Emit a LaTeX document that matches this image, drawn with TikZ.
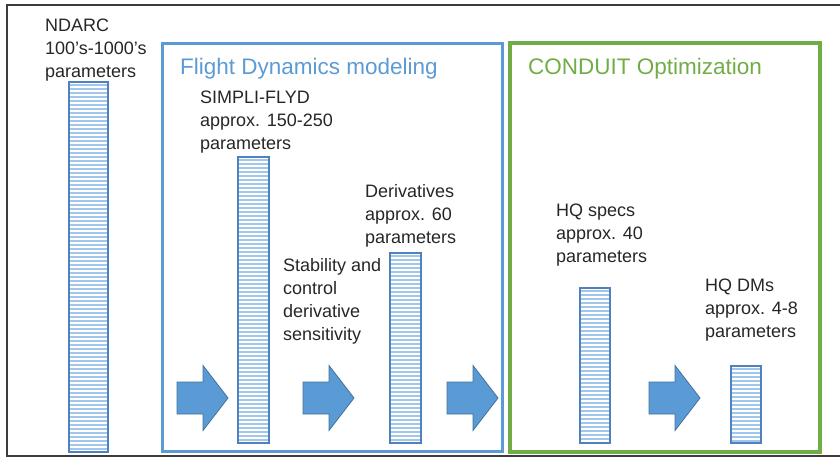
\documentclass[tikz,border=0pt]{standalone}
\usepackage{fontspec}
\setmainfont{Liberation Sans}
\usetikzlibrary{calc}
\definecolor{fdblue}{RGB}{91,155,213}
\definecolor{cgreen}{RGB}{112,173,71}
\definecolor{barline}{RGB}{79,129,189}
\definecolor{stripe}{RGB}{160,198,236}
\definecolor{arrowfill}{RGB}{91,155,213}
\definecolor{arrowedge}{RGB}{65,113,156}
\definecolor{framecol}{RGB}{60,60,60}
\newcommand{\stripebar}[5]{%
  \begin{scope}
    \clip (#1,#2) rectangle (#3,#4);
    \pgfmathsetmacro{\ystart}{#2+3}
    \pgfmathsetmacro{\ynext}{#2+7}
    \foreach \yy in {\ystart,\ynext,...,#4}
      \fill[stripe] (#1,\yy-1) rectangle (#3,\yy+1);
  \end{scope}
  \draw[barline, line width=1.1pt] (#1,#2) rectangle (#3,#4);
  \coordinate (#5) at ($(#1,#2)!0.5!(#3,#4)$);
}
\tikzset{
  lbl/.style={anchor=base west, inner sep=0pt, align=left, font=\fontsize{18}{23}\selectfont, text=black!85},
  ttl/.style={anchor=base west, inner sep=0pt, font=\fontsize{22.5}{27}\selectfont},
  pics/bigarrow/.style={code={
    \draw[fill=arrowfill, draw=arrowedge, line width=0.8pt]
      (0,-16) -- (26,-16) -- (26,-32.5) -- (51,0) -- (26,32.5) -- (26,16) -- (0,16) -- cycle;
  }}
}
\begin{document}
\begin{tikzpicture}[x=1pt,y=-1pt]
\useasboundingbox (0,0) rectangle (840,458);
% outer frame
\draw[framecol, line width=1.6pt] (840,5) -- (7,5) -- (7,456) -- (840,456);
% group boxes
\draw[fdblue, line width=3pt] (162,43) rectangle (502,451);
\draw[cgreen, line width=3.5pt] (510,43) rectangle (820,452);
\node[ttl, text=fdblue] (fdtitle) at (180,74) {Flight Dynamics modeling};
\node[ttl, text=cgreen] (cdtitle) at (528,74) {CONDUIT Optimization};
% bars
\stripebar{69}{82}{108}{452}{ndarcbar}
\stripebar{238}{157}{269}{443}{simplibar}
\stripebar{390}{253}{421}{443}{derivbar}
\stripebar{580}{288}{610}{443}{hqspecbar}
\stripebar{731}{366}{761}{443}{hqdmbar}
% labels (anchor at baseline of last line)
\node[lbl] (ndarc) at (45,77) {NDARC\\100’s-1000’s\\parameters};
\node[lbl] (simpli) at (200,149) {SIMPLI-FLYD\\approx. 150-250\\parameters};
\node[lbl] (stab) at (283,340) {Stability and\\control\\derivative\\sensitivity};
\node[lbl] (deriv) at (365,243) {Derivatives\\approx. 60\\parameters};
\node[lbl] (hqspec) at (556,262) {HQ specs\\approx. 40\\parameters};
\node[lbl] (hqdm) at (705,337) {HQ DMs\\approx. 4-8\\parameters};
% block arrows
\pic at (177,398) {bigarrow};
\pic at (303,398) {bigarrow};
\pic at (447,398) {bigarrow};
\pic at (649,398) {bigarrow};
\end{tikzpicture}
\end{document}
